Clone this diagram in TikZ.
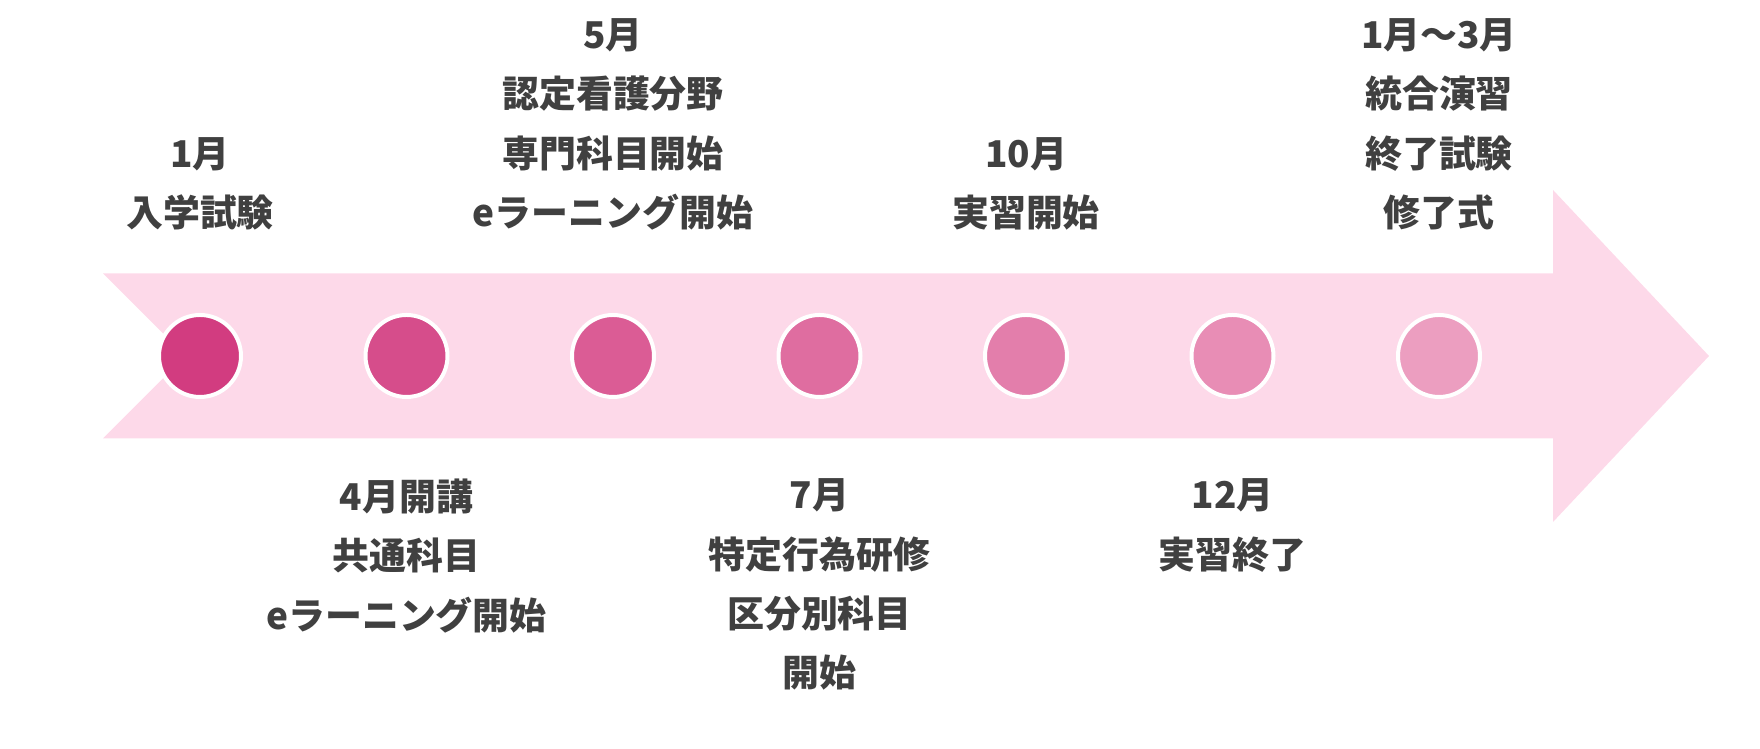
\documentclass[tikz,border=0pt]{standalone}
\usepackage{fontspec}
\usepackage{xcolor}
\usetikzlibrary{positioning}
\newfontfamily\jpfont{Noto Sans CJK JP}
\definecolor{bandpink}{HTML}{FDD9E9}
\definecolor{dotfirst}{HTML}{D23C80}
\definecolor{dotlast}{HTML}{EC9EC0}
\definecolor{labelgray}{HTML}{404040}

\begin{document}
\begin{tikzpicture}[
        % Style for the step dots on the arrow
        stepdot/.style={circle, draw=white, line width=0.4mm, minimum size=8.2mm, inner sep=0pt},
        % Style for the label groups
        steplabel/.style={align=center, text=labelgray, inner sep=0pt,
            font=\jpfont\bfseries\fontsize{10.5}{16.9}\selectfont}
    ]
    \useasboundingbox (0,3.56) rectangle (17.6,-3.93);

    % --- Big arrow ---
    \fill[bandpink] (1.03,0.825) -- (15.53,0.825) -- (15.53,1.66) -- (17.09,0)
        -- (15.53,-1.66) -- (15.53,-0.825) -- (1.03,-0.825) -- (1.855,0) -- cycle;

    % --- Dots ---
    \node[stepdot, fill=dotfirst] (D1) at (2.000,0) {};
    \node[stepdot, fill=dotlast!17!dotfirst] (D2) at (4.065,0) {};
    \node[stepdot, fill=dotlast!33!dotfirst] (D3) at (6.130,0) {};
    \node[stepdot, fill=dotlast!50!dotfirst] (D4) at (8.195,0) {};
    \node[stepdot, fill=dotlast!67!dotfirst] (D5) at (10.260,0) {};
    \node[stepdot, fill=dotlast!83!dotfirst] (D6) at (12.325,0) {};
    \node[stepdot, fill=dotlast] (D7) at (14.390,0) {};

    % --- Labels above ---
    \node[steplabel, anchor=south] (L1) at (2.000,1.25) {1月\\入学試験};
    \node[steplabel, anchor=south] (L3) at (6.130,1.25) {5月\\認定看護分野\\専門科目開始\\eラーニング開始};
    \node[steplabel, anchor=south] (L5) at (10.260,1.25) {10月\\実習開始};
    \node[steplabel, anchor=south] (L7) at (14.390,1.25) {1月～3月\\統合演習\\終了試験\\修了式};

    % --- Labels below ---
    \node[steplabel, anchor=north] (L2) at (4.065,-1.22) {4月開講\\共通科目\\eラーニング開始};
    \node[steplabel, anchor=north] (L4) at (8.195,-1.22) {7月\\特定行為研修\\区分別科目\\開始};
    \node[steplabel, anchor=north] (L6) at (12.325,-1.22) {12月\\実習終了};

\end{tikzpicture}
\end{document}
